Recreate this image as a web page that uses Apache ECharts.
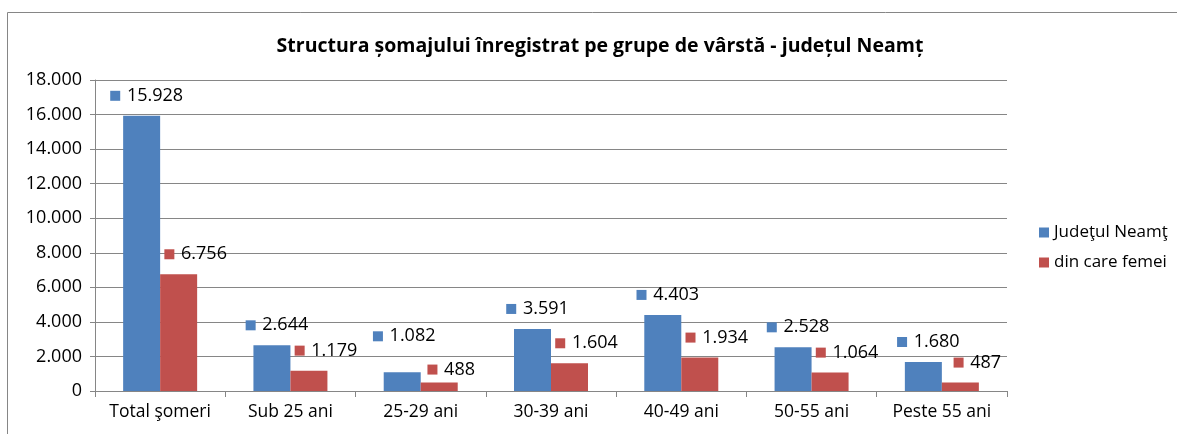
<!DOCTYPE html>
<html>
<head>
<meta charset="utf-8">
<script src="https://cdn.jsdelivr.net/npm/echarts@6/dist/echarts.min.js"></script>
<style>
  html, body { margin: 0; padding: 0; background: #fff; }
  #chart { width: 1177px; height: 434px; }
</style>
</head>
<body>
<div id="chart"></div>
<script>
// date
var categories = ['Total şomeri', 'Sub 25 ani', '25-29 ani', '30-39 ani', '40-49 ani', '50-55 ani', 'Peste 55 ani'];
var judet = [15928, 2644, 1082, 3591, 4403, 2528, 1680];
var femei = [6756, 1179, 488, 1604, 1934, 1064, 487];
var seriesNames = ['Judeţul Neamţ', 'din care femei'];
var yTicks = { min: 0, max: 18000, interval: 2000 };

var font = '"Open Sans", "Noto Sans", sans-serif';
var blue = '#4F81BD';
var red = '#C0504D';

function fmt(v) {
    // separator de mii cu punct
    return String(v).replace(/\B(?=(\d{3})+(?!\d))/g, '.');
}

function makeLabel(color, dx) {
    return {
        show: true,
        position: 'top',
        distance: 11,
        offset: [dx, 0],
        formatter: function (p) { return '{sq|}  {v|' + fmt(p.value) + '}'; },
        rich: {
            sq: { width: 10, height: 10, backgroundColor: color },
            v: { fontFamily: font, fontSize: 18, color: '#000' }
        }
    };
}

// etichetele pentru 25-29 ani sunt mutate ca in original
function withOffsets(values, moves) {
    return values.map(function (v, i) {
        if (moves[i]) return { value: v, label: { offset: moves[i] } };
        return v;
    });
}

var myChart = echarts.init(document.getElementById('chart'));
var option = {
    animation: false,
    title: {
        text: 'Structura șomajului înregistrat pe grupe de vârstă - județul Neamț',
        left: 595,
        textAlign: 'center',
        top: 31,
        textStyle: { fontFamily: font, fontSize: 19.5, fontWeight: 'bold', color: '#000' }
    },
    graphic: [{
        type: 'rect',
        shape: { x: 7.5, y: 12.5, width: 1200, height: 500 },
        style: { fill: 'none', stroke: '#868686', lineWidth: 1 },
        silent: true
    }],
    legend: {
        orient: 'vertical',
        left: 1034,
        top: 219,
        itemGap: 13,
        itemWidth: 10,
        itemHeight: 10,
        icon: 'rect',
        textStyle: { fontFamily: font, fontSize: 17, color: '#000' },
        data: seriesNames
    },
    grid: { left: 95, right: 170, top: 80, bottom: 43 },
    xAxis: {
        type: 'category',
        data: categories,
        axisLine: { lineStyle: { color: '#868686' } },
        axisTick: { show: true, interval: 0, length: 6, lineStyle: { color: '#868686' } },
        axisLabel: { interval: 0, fontFamily: font, fontSize: 17.5, color: '#000', margin: 12 }
    },
    yAxis: {
        type: 'value',
        min: yTicks.min,
        max: yTicks.max,
        interval: yTicks.interval,
        axisLine: { show: true, lineStyle: { color: '#868686' } },
        axisTick: { show: true, length: 5, lineStyle: { color: '#868686' } },
        splitLine: { lineStyle: { color: '#868686' } },
        axisLabel: { fontFamily: font, fontSize: 18, color: '#000', margin: 13, formatter: fmt }
    },
    series: [
        {
            name: seriesNames[0],
            type: 'bar',
            data: withOffsets(judet, { 2: [2, -16] }),
            barWidth: 37,
            barGap: '0%',
            itemStyle: { color: blue },
            label: makeLabel(blue, 5)
        },
        {
            name: seriesNames[1],
            type: 'bar',
            data: withOffsets(femei, { 2: [12, 7] }),
            barWidth: 37,
            itemStyle: { color: red },
            label: makeLabel(red, 17)
        }
    ]
};
myChart.setOption(option);
</script>
</body>
</html>
